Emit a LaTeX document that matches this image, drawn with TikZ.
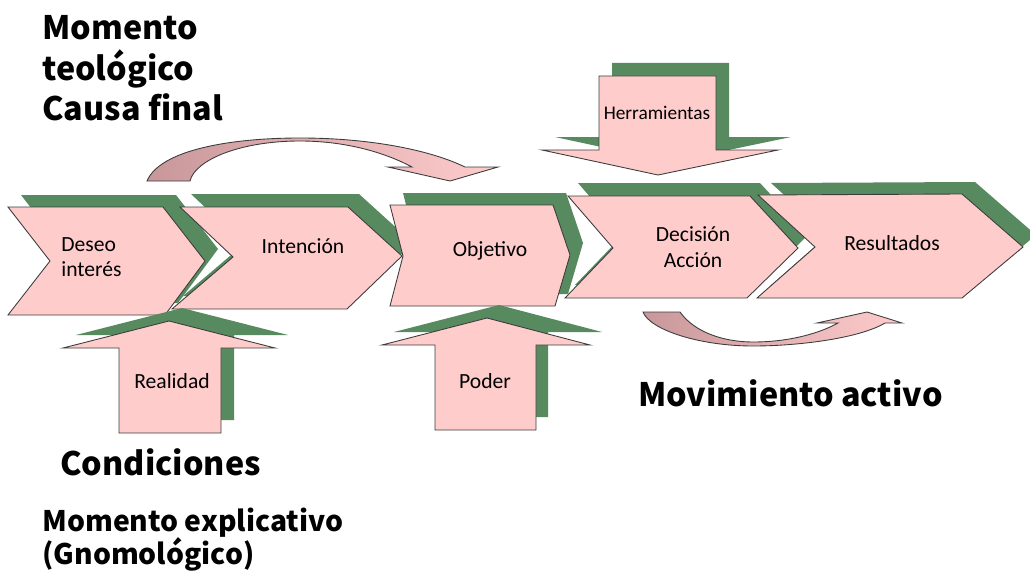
\documentclass[tikz,border=0pt]{standalone}
\usepackage{fontspec}
\setmainfont{Carlito}
\newfontfamily\headfont{Noto Sans CJK SC}
\usetikzlibrary{arrows.meta}

\definecolor{boxpink}{HTML}{FFCCCC}
\definecolor{leafgreen}{HTML}{588A60}
\definecolor{edgegray}{HTML}{3C3C3C}
\definecolor{dustrose}{HTML}{C8979A}

\tikzset{
  pinkbox/.style={fill=boxpink, draw=edgegray, line width=0.5pt},
  leaf/.style={fill=leafgreen},
  boxtext/.style={font=\fontsize{12.3}{14.5}\selectfont, inner sep=0pt},
  headline/.style={font=\headfont\bfseries\fontsize{18.4}{23.2}\selectfont, inner sep=0pt, align=left},
  curvearrow/.style={left color=dustrose, right color=boxpink, draw=edgegray, line width=0.5pt}
}

% green shadow first, pink shape on top
\newcommand{\shadowed}[2]{\fill[leaf, shift={#1}] #2; \draw[pinkbox] #2;}

\begin{document}
\begin{tikzpicture}[x=0.02cm, y=-0.02cm]
    \useasboundingbox (0,0) rectangle (1030,571);
    \clip (0,0) rectangle (1030,571);

    % chevrons
    \shadowed{(13,-12)}{(8,207) -- (50,261) -- (8,315) -- (165,315) -- (205,261) -- (163,207) -- cycle}
    \shadowed{(11,-13)}{(180,207) -- (233,257) -- (172,309) -- (347,309) -- (402,256) -- (348,207) -- cycle}
    \shadowed{(13,-12)}{(390,205) -- (403,256) -- (390,306) -- (555,306) -- (570,255) -- (553,205) -- cycle}
    \shadowed{(10,-13)}{(568,196) -- (613,248) -- (565,298) -- (747,298) -- (798,248) -- (750,196) -- cycle}
    \shadowed{(13,-12)}{(758,195) -- (815,247) -- (757,298) -- (962,298) -- (1023,247) -- (962,194) -- cycle}

    % block arrows
    \shadowed{(13,-13)}{(119,433) -- (119,348) -- (63,348) -- (169,321) -- (275,348) -- (221,348) -- (221,433) -- cycle}
    \shadowed{(12,-13)}{(435,430) -- (435,345) -- (382,345) -- (487,318) -- (590,345) -- (536,345) -- (536,430) -- cycle}
    \shadowed{(13,-13)}{(599,76) -- (599,150) -- (542,150) -- (658,175) -- (778,150) -- (716,150) -- (716,76) -- cycle}

    % curved arrows
    \shadedraw[curvearrow] (147,181) .. controls (160,150) and (230,138) .. (300,138)
        .. controls (370,138) and (430,150) .. (465,167) -- (498,167) -- (450,181) -- (388,167) -- (412,167)
        .. controls (380,150) and (340,141) .. (300,141) .. controls (240,141) and (195,160) .. (190,181) -- cycle;
    \shadedraw[curvearrow] (643,312) -- (680,312) .. controls (695,333) and (725,342) .. (753,342)
        .. controls (790,342) and (820,333) .. (838,323) -- (817,323) -- (867,312) -- (902,323) -- (885,323)
        .. controls (860,338) and (800,346) .. (753,346) .. controls (700,346) and (650,330) .. (643,312) -- cycle;

    % labels
    \node[boxtext, align=left, anchor=west] (deseo) at (61,257) {Deseo\\interés};
    \node[boxtext] (intencion) at (303,246) {Intención};
    \node[boxtext] (objetivo) at (490,251) {Objetivo};
    \node[boxtext, align=center] (decision) at (693,247) {Decisión\\Acción};
    \node[boxtext] (resultados) at (892,243) {Resultados};
    \node[boxtext, font=\fontsize{11}{13}\selectfont] (herramientas) at (657,113) {Herramientas};
    \node[boxtext] (realidad) at (172,381) {Realidad};
    \node[boxtext] (poder) at (485,381) {Poder};

    % headings
    \node[headline, anchor=north west] (teleo) at (42,15) {Momento\\teológico\\Causa final};
    \node[headline, anchor=west] (condiciones) at (60,462) {Condiciones};
    \node[headline, anchor=west] (movimiento) at (638,393) {Movimiento activo};
    \node[headline, font=\headfont\bfseries\fontsize{16.1}{18.7}\selectfont, anchor=north west] (explicativo) at (42,508) {Momento explicativo\\(Gnomológico)};
\end{tikzpicture}
\end{document}
